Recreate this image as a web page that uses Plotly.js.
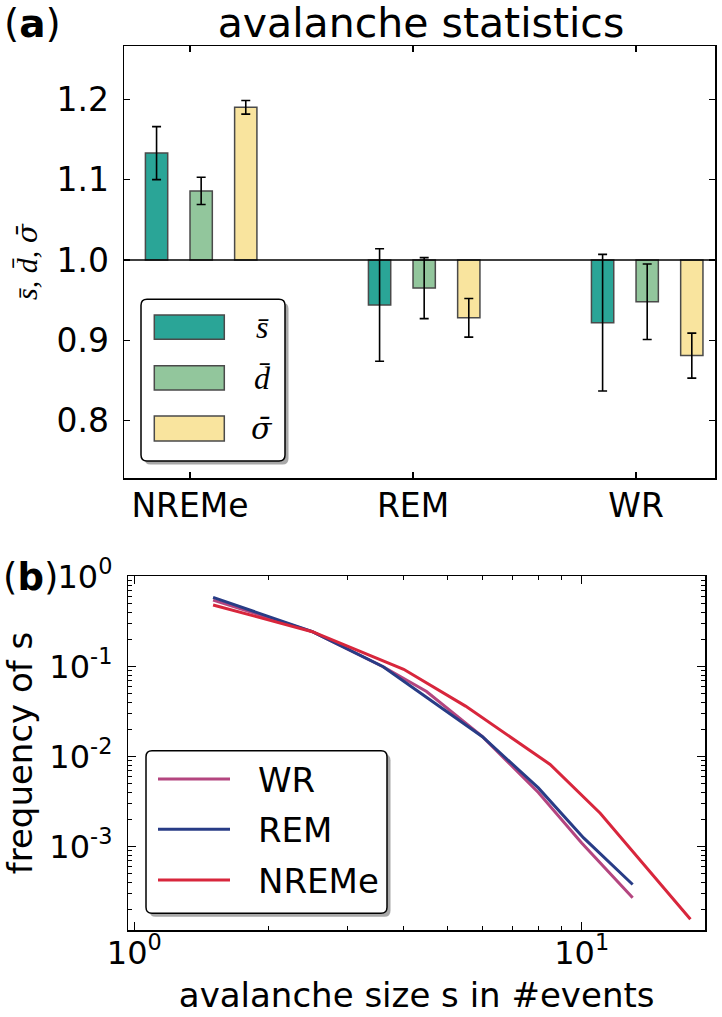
<!DOCTYPE html>
<html>
<head>
<meta charset="utf-8">
<script src="https://cdn.plot.ly/plotly-3.0.1.min.js"></script>
<style>html,body{margin:0;padding:0;background:#fff;}</style>
</head>
<body>
<div id="chart" style="width:722px;height:1017px;"></div>
<script>
// ---------- panel (a): avalanche statistics ----------
const states = ['NREMe', 'REM', 'WR'];
const sMean = [1.133, 0.944, 0.922];
const sErr = [0.033, 0.070, 0.085];
const dMean = [1.086, 0.965, 0.948];
const dErr = [0.017, 0.038, 0.047];
const sigmaMean = [1.190, 0.928, 0.881];
const sigmaErr = [0.0085, 0.024, 0.028];
const barNames = ['s\u0304', 'd\u0304', '\u03C3\u0304'];
const barColors = ['#2aa597', '#92c69c', '#f9e49e'];
const yTicksA = [0.8, 0.9, 1.0, 1.1, 1.2];

// ---------- panel (b): size distributions ----------
const wrSize = [1.5, 2.5, 3.6, 4.5, 6.0, 8.0, 10.0, 13.0];
const wrFreq = [0.55, 0.245, 0.100, 0.053, 0.0167, 0.0040, 0.00110, 0.00027];
const remSize = [1.5, 2.5, 3.6, 6.0, 8.0, 10.1, 13.0];
const remFreq = [0.59, 0.245, 0.100, 0.0167, 0.0045, 0.00125, 0.00038];
const nremSize = [1.5, 2.5, 4.0, 5.5, 8.5, 11.0, 17.5];
const nremFreq = [0.485, 0.245, 0.0935, 0.0365, 0.0082, 0.00235, 0.000156];
const lineNames = ['WR', 'REM', 'NREMe'];
const lineColors = ['#b4457f', '#283c86', '#d8263c'];
const xTicksB = [1, 10];
const xTickTextB = ['10<sup>0</sup>', '10<sup>1</sup>'];
const yTicksB = [1, 0.1, 0.01, 0.001];
const yTickTextB = ['10<sup>0</sup>', '10<sup>-1</sup>', '10<sup>-2</sup>', '10<sup>-3</sup>'];

// ---------- geometry helpers (pixels -> paper) ----------
const W = 722, H = 1017;
const px = v => v / W;
const py = v => 1 - v / H;

const FONT = 'DejaVu Sans, Liberation Sans, sans-serif';
const SERIF_A = 'Liberation Serif, DejaVu Serif, serif';
const SERIF_B = 'DejaVu Serif, Liberation Serif, serif';
const mathFonts = [SERIF_A, SERIF_A, SERIF_B];
const mathSizes = [32, 32, 30];

const idx = states.map((_, i) => i);
const barOffsets = [-0.2, 0.0, 0.2];
const barWidth = 0.1;
const barSeries = [[sMean, sErr], [dMean, dErr], [sigmaMean, sigmaErr]];

const traces = barSeries.map((ser, k) => ({
  type: 'bar',
  name: barNames[k],
  x: idx,
  y: ser[0].map(v => v - 1),
  base: 1,
  offset: barOffsets[k],
  width: barWidth,
  marker: {color: barColors[k], line: {color: '#4a4a4a', width: 1.5}},
  error_y: {type: 'data', array: ser[1], visible: true, color: '#000', thickness: 1.6, width: 4.5},
  xaxis: 'x', yaxis: 'y',
  showlegend: false
}));

const lineSeries = [[wrSize, wrFreq], [remSize, remFreq], [nremSize, nremFreq]];
lineSeries.forEach((ser, k) => {
  traces.push({
    type: 'scatter', mode: 'lines',
    name: lineNames[k],
    x: ser[0], y: ser[1],
    line: {color: lineColors[k], width: 3},
    xaxis: 'x2', yaxis: 'y2',
    showlegend: false
  });
});

const axisCommon = {
  showline: true, linecolor: '#000', linewidth: 1.5, mirror: 'ticks',
  ticks: 'inside', tickcolor: '#000', tickwidth: 1.2,
  showgrid: false, zeroline: false,
  tickfont: {family: FONT, size: 33, color: '#000'}
};

// rounded rectangle path in paper coordinates
function roundRect(x0, y0, x1, y1, r) {
  const rx = r / W, ry = r / H;
  const X0 = px(x0), X1 = px(x1), Y0 = py(y0), Y1 = py(y1);
  return `M${X0 + rx},${Y0} L${X1 - rx},${Y0} Q${X1},${Y0} ${X1},${Y0 - ry} ` +
         `L${X1},${Y1 + ry} Q${X1},${Y1} ${X1 - rx},${Y1} L${X0 + rx},${Y1} ` +
         `Q${X0},${Y1} ${X0},${Y1 + ry} L${X0},${Y0 - ry} Q${X0},${Y0} ${X0 + rx},${Y0} Z`;
}

const shapes = [
  {type: 'line', xref: 'x domain', x0: 0, x1: 1, yref: 'y', y0: 1, y1: 1,
   line: {color: '#000', width: 1.6}},
  // legend (a) frame + shadow
  {type: 'path', xref: 'paper', yref: 'paper', path: roundRect(144.5, 302.8, 288.5, 464.5, 6),
   fillcolor: '#a8a8a8', line: {width: 0}},
  {type: 'path', xref: 'paper', yref: 'paper', path: roundRect(141, 299.3, 285, 461, 6),
   fillcolor: '#fff', line: {color: '#000', width: 1.5}},
  // legend (b) frame + shadow
  {type: 'path', xref: 'paper', yref: 'paper', path: roundRect(149.5, 754.2, 390.5, 916.8, 6),
   fillcolor: '#a8a8a8', line: {width: 0}},
  {type: 'path', xref: 'paper', yref: 'paper', path: roundRect(146, 750.7, 387, 913.3, 6),
   fillcolor: '#fff', line: {color: '#000', width: 1.5}}
];

const annotations = [
  {text: '(<b>a</b>)', xref: 'paper', yref: 'paper', x: px(2), y: py(23), xanchor: 'left', yanchor: 'middle',
   showarrow: false, font: {family: FONT, size: 39, color: '#000'}},
  {text: '(<b>b</b>)', xref: 'paper', yref: 'paper', x: px(1), y: py(577), xanchor: 'left', yanchor: 'middle',
   showarrow: false, font: {family: FONT, size: 37, color: '#000'}}
];

// legend (a): bar patches + math labels
const patchRows = [[315, 339.3], [365.7, 390], [416, 441]];
patchRows.forEach((r, k) => {
  shapes.push({type: 'rect', xref: 'paper', yref: 'paper',
    x0: px(154.3), x1: px(224.3), y0: py(r[1]), y1: py(r[0]),
    fillcolor: barColors[k], line: {color: '#4a4a4a', width: 1.5}});
  annotations.push({text: '<i>' + barNames[k] + '</i>', xref: 'paper', yref: 'paper',
    x: px(262), y: py((r[0] + r[1]) / 2), xanchor: 'center', yanchor: 'middle', showarrow: false,
    font: {family: mathFonts[k], size: mathSizes[k], color: '#000'}});
});

// legend (b): line samples + names
const legendRowsB = [779, 829.3, 880];
legendRowsB.forEach((yy, k) => {
  shapes.push({type: 'line', xref: 'paper', yref: 'paper',
    x0: px(158), x1: px(230), y0: py(yy), y1: py(yy),
    line: {color: lineColors[k], width: 3}});
  annotations.push({text: lineNames[k], xref: 'paper', yref: 'paper',
    x: px(256), y: py(yy + 1), xanchor: 'left', yanchor: 'middle', showarrow: false,
    font: {family: FONT, size: 34, color: '#000'}});
});

const yTitleA = barNames.map((n, k) =>
  `<span style="font-family:${mathFonts[k]};font-size:${mathSizes[k] - 2}px">${n}</span>`).join(', ');

const layout = {
  width: W, height: H, autosize: false,
  margin: {l: 0, r: 0, t: 0, b: 0},
  paper_bgcolor: '#fff', plot_bgcolor: '#fff',
  font: {family: FONT, color: '#000'},
  title: {text: 'avalanche statistics', font: {family: FONT, size: 41, color: '#000'},
          xref: 'paper', yref: 'paper', x: px(421), xanchor: 'center', y: py(23), yanchor: 'middle'},
  barmode: 'overlay',
  showlegend: false,
  xaxis: Object.assign({}, axisCommon, {
    domain: [px(124), px(715)], anchor: 'y', range: [-0.296, 2.354],
    tickmode: 'array', tickvals: idx, ticktext: states, ticklen: 6, ticklabelstandoff: -2
  }),
  yaxis: Object.assign({}, axisCommon, {
    domain: [py(478), py(46)], anchor: 'x', range: [0.7287, 1.2663],
    tickmode: 'array', tickvals: yTicksA, ticktext: yTicksA.map(v => v.toFixed(1)), ticklen: 6,
    ticklabelstandoff: 7,
    title: {text: '<i>' + yTitleA + '</i>', font: {family: SERIF_A, size: 30, color: '#000'}, standoff: 10}
  }),
  xaxis2: Object.assign({}, axisCommon, {
    domain: [px(128.3), px(705)], anchor: 'y2', type: 'log', range: [-0.0134, 1.2756],
    tickmode: 'array', tickvals: xTicksB, ticktext: xTickTextB, ticklen: 8, ticklabelstandoff: -6,
    tickfont: {family: FONT, size: 32, color: '#000'},
    minor: {tickmode: 'linear', dtick: 'D1', ticklen: 4, tickwidth: 1, tickcolor: '#000', ticks: 'inside'},
    title: {text: 'avalanche size s in #events', font: {family: FONT, size: 34, color: '#000'}, standoff: 12}
  }),
  yaxis2: Object.assign({}, axisCommon, {
    domain: [py(930), py(576)], anchor: 'x2', type: 'log', range: [-3.926, 0.008],
    tickmode: 'array', tickvals: yTicksB, ticktext: yTickTextB, ticklen: 8, ticklabelstandoff: 8,
    tickfont: {family: FONT, size: 32, color: '#000'},
    minor: {tickmode: 'linear', dtick: 'D1', ticklen: 4, tickwidth: 1, tickcolor: '#000', ticks: 'inside'},
    title: {text: 'frequency of s', font: {family: FONT, size: 34, color: '#000'}, standoff: 10}
  }),
  shapes: shapes,
  annotations: annotations
};

Plotly.newPlot('chart', traces, layout, {displayModeBar: false, staticPlot: true});
</script>
</body>
</html>
